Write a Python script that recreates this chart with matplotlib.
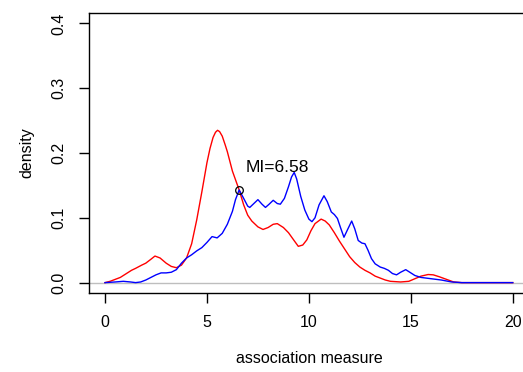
import matplotlib
matplotlib.use("Agg")
from matplotlib import pyplot as plt

plt.rcParams['font.family'] = ['Liberation Sans', 'DejaVu Sans']

# red density curve
red_x = [0.0, 0.25, 0.5, 0.75, 1.0, 1.3, 1.5, 1.8, 2.0, 2.25, 2.45, 2.7, 3.0, 3.25, 3.5,
         3.75, 4.0, 4.25, 4.5, 4.75, 5.0, 5.15, 5.3, 5.42, 5.52, 5.62, 5.75, 5.9, 6.0, 6.25,
         6.58, 6.8, 7.0, 7.2, 7.5, 7.75, 8.0, 8.25, 8.45, 8.75, 9.0, 9.25, 9.48, 9.7, 9.9,
         10.1, 10.3, 10.6, 10.8, 11.0, 11.25, 11.5, 11.75, 12.0, 12.25, 12.5, 12.75, 13.0,
         13.25, 13.5, 13.75, 14.0, 14.5, 14.9, 15.2, 15.5, 15.85, 16.1, 16.4, 16.75, 17.1,
         17.5, 20.0]
red_y = [0.000, 0.002, 0.005, 0.008, 0.013, 0.019, 0.022, 0.027, 0.030, 0.036, 0.041, 0.038,
         0.030, 0.025, 0.023, 0.027, 0.038, 0.060, 0.097, 0.140, 0.185, 0.207, 0.224, 0.232,
         0.235, 0.233, 0.226, 0.212, 0.202, 0.172, 0.143, 0.120, 0.104, 0.095, 0.086, 0.082,
         0.085, 0.090, 0.091, 0.085, 0.077, 0.066, 0.056, 0.058, 0.066, 0.080, 0.091, 0.098,
         0.095, 0.089, 0.077, 0.064, 0.052, 0.040, 0.031, 0.024, 0.019, 0.015, 0.010, 0.007,
         0.004, 0.002, 0.001, 0.002, 0.006, 0.010, 0.0125, 0.012, 0.009, 0.005, 0.001, 0.000,
         0.000]

# blue density curve
blue_x = [0.0, 0.5, 0.9, 1.25, 1.5, 1.75, 2.0, 2.25, 2.5, 2.75, 3.0, 3.25, 3.5, 3.75, 4.0,
          4.25, 4.5, 4.75, 5.0, 5.25, 5.5, 5.75, 6.0, 6.25, 6.4, 6.58, 6.75, 7.0, 7.1, 7.3,
          7.5, 7.7, 7.87, 8.05, 8.25, 8.45, 8.6, 8.8, 9.0, 9.15, 9.28, 9.4, 9.6, 9.8, 10.0,
          10.15, 10.3, 10.5, 10.74, 10.9, 11.1, 11.25, 11.4, 11.55, 11.72, 11.9, 12.1, 12.25,
          12.42, 12.6, 12.75, 12.9, 13.07, 13.25, 13.5, 13.7, 13.9, 14.1, 14.3, 14.5, 14.75,
          14.95, 15.2, 15.5, 15.75, 16.0, 16.5, 17.0, 17.5, 20.0]
blue_y = [0.000, 0.001, 0.002, 0.001, 0.000, 0.001, 0.004, 0.008, 0.012, 0.015, 0.015, 0.016,
          0.020, 0.030, 0.038, 0.043, 0.049, 0.054, 0.062, 0.071, 0.069, 0.076, 0.090, 0.110,
          0.128, 0.143, 0.133, 0.118, 0.116, 0.122, 0.128, 0.121, 0.116, 0.121, 0.127, 0.122,
          0.121, 0.130, 0.148, 0.163, 0.170, 0.160, 0.133, 0.112, 0.098, 0.094, 0.100, 0.120,
          0.134, 0.125, 0.109, 0.105, 0.099, 0.085, 0.070, 0.082, 0.095, 0.083, 0.065, 0.061,
          0.060, 0.050, 0.037, 0.029, 0.024, 0.022, 0.019, 0.014, 0.012, 0.016, 0.020, 0.016,
          0.011, 0.008, 0.007, 0.006, 0.004, 0.001, 0.000, 0.000]

mi_x, mi_y = 6.58, 0.143
x_ticks = [0, 5, 10, 15, 20]
y_ticks = [0.0, 0.1, 0.2, 0.3, 0.4]

fig = plt.figure(figsize=(5.23, 3.72), dpi=100)
ax = fig.add_axes([0.1696, 0.2124, 0.842, 0.7527])

ax.axhline(0, color='#BEBEBE', lw=1.0)
ax.plot(red_x, red_y, color='#FF0000', lw=1.0)
ax.plot(blue_x, blue_y, color='#0000FF', lw=1.0)
ax.plot([mi_x], [mi_y], 'o', mfc='none', mec='black', ms=5.5, mew=0.9)
ax.annotate('MI=%.2f' % mi_x, (mi_x, mi_y), xytext=(5, 16), textcoords='offset points',
            ha='left', va='center', fontsize=12.5)

ax.set_xlim(-0.8, 20.8)
ax.set_ylim(-0.016, 0.416)
ax.set_xticks(x_ticks)
ax.set_xticklabels([str(t) for t in x_ticks])
ax.set_yticks(y_ticks)
ax.set_yticklabels(['%.1f' % t for t in y_ticks], rotation=90, va='center')
ax.tick_params(direction='out', length=7, width=1, labelsize=11.5, pad=9)
for s in ax.spines.values():
    s.set_linewidth(1)

ax.set_xlabel('association measure', fontsize=11.5, labelpad=15)
ax.set_ylabel('density', fontsize=11.5, labelpad=12)

plt.savefig('out.png', dpi=100)
